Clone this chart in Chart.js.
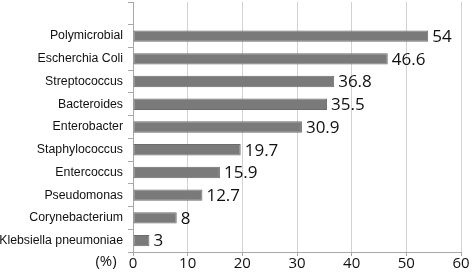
<!DOCTYPE html>
<html>
<head>
<meta charset="utf-8">
<script src="https://cdn.jsdelivr.net/npm/chart.js@4.4.1/dist/chart.umd.min.js"></script>
<style>
  html, body { margin: 0; padding: 0; background: #fff; }
  #wrap { width: 472px; height: 279px; }
</style>
</head>
<body>
<div id="wrap"><canvas id="chart-bars" width="472" height="279"></canvas></div>
<script>
// bacteria share, top row of the plot is left empty as in the original
const categories = ['', 'Polymicrobial', 'Escherchia Coli', 'Streptococcus', 'Bacteroides', 'Enterobacter',
  'Staphylococcus', 'Entercoccus', 'Pseudomonas', 'Corynebacterium', 'Klebsiella pneumoniae'];
const percentages = [null, 54, 46.6, 36.8, 35.5, 30.9, 19.7, 15.9, 12.7, 8, 3];
const xTickValues = [0, 10, 20, 30, 40, 50, 60];
const unitLabel = '(%)';

const numFont = "'Open Sans', sans-serif";

// value at the end of each bar
const valueLabels = {
  id: 'valueLabels',
  afterDatasetsDraw(chart) {
    const { ctx } = chart;
    const meta = chart.getDatasetMeta(0);
    ctx.save();
    ctx.font = `17px ${numFont}`;
    ctx.fillStyle = '#111';
    ctx.textAlign = 'left';
    ctx.textBaseline = 'middle';
    meta.data.forEach((bar, i) => {
      const v = percentages[i];
      if (v === null) return;
      ctx.fillText(String(v), bar.x + 4, bar.y + 1);
    });
    ctx.restore();
  }
};

// "(%)" left of the x tick labels
const unitText = {
  id: 'unitText',
  afterDraw(chart) {
    const { ctx, chartArea } = chart;
    ctx.save();
    ctx.font = `15px ${numFont}`;
    ctx.fillStyle = '#111';
    ctx.textAlign = 'center';
    ctx.textBaseline = 'middle';
    ctx.fillText(unitLabel, chartArea.left - 27, chartArea.bottom + 10);
    ctx.restore();
  }
};

new Chart(document.getElementById('chart-bars').getContext('2d'), {
  type: 'bar',
  data: {
    labels: categories,
    datasets: [{
      data: percentages,
      backgroundColor: '#7a7a7a',
      borderColor: '#6c6c6c',
      borderWidth: 1,
      borderSkipped: false,
      categoryPercentage: 1,
      barPercentage: 0.5
    }]
  },
  options: {
    indexAxis: 'y',
    responsive: false,
    animation: false,
    layout: { padding: { top: 2, right: 11, left: 0, bottom: 0 } },
    plugins: {
      legend: { display: false },
      tooltip: { enabled: false }
    },
    scales: {
      x: {
        min: 0,
        max: 60,
        afterFit: (scale) => { scale.height = 27; scale.paddingLeft = 0; scale.paddingRight = 0; },
        afterBuildTicks: (scale) => { scale.ticks = xTickValues.map(v => ({ value: v })); },
        grid: { color: '#d2d2d2', tickLength: 4, tickColor: '#a8a8a8' },
        border: { color: '#a8a8a8' },
        ticks: {
          padding: -1,
          color: '#111',
          font: { family: "'Open Sans', sans-serif", size: 15 }
        }
      },
      y: {
        afterFit: (scale) => { scale.width = 133; scale.paddingTop = 0; scale.paddingBottom = 0; },
        grid: { drawOnChartArea: false, offset: true, tickLength: 5, color: '#a8a8a8' },
        border: { color: '#a8a8a8' },
        ticks: {
          padding: 5,
          color: '#111',
          autoSkip: false,
          font: { family: "'Liberation Sans', Arial, sans-serif", size: 12.3 }
        }
      }
    }
  },
  plugins: [valueLabels, unitText]
});
</script>
</body>
</html>
